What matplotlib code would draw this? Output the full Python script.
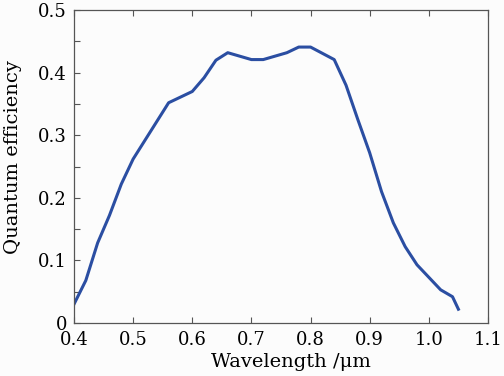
import matplotlib
matplotlib.use("Agg")
import matplotlib.pyplot as plt
from matplotlib.ticker import MultipleLocator

# Кривая квантовой эффективности
wavelength = [0.40, 0.42, 0.44, 0.46, 0.48, 0.50, 0.52, 0.54, 0.56, 0.60,
              0.62, 0.64, 0.66, 0.70, 0.72, 0.76, 0.78, 0.80, 0.84, 0.86,
              0.88, 0.90, 0.92, 0.94, 0.96, 0.98, 1.00, 1.02, 1.04, 1.05]
efficiency = [0.030, 0.068, 0.128, 0.172, 0.222, 0.262, 0.292, 0.322, 0.352, 0.370,
              0.392, 0.420, 0.432, 0.421, 0.421, 0.432, 0.441, 0.441, 0.421, 0.380,
              0.325, 0.272, 0.210, 0.160, 0.122, 0.093, 0.073, 0.053, 0.042, 0.022]
x_ticks = [0.4, 0.5, 0.6, 0.7, 0.8, 0.9, 1.0, 1.1]
y_ticks = [0, 0.1, 0.2, 0.3, 0.4, 0.5]
x_tick_labels = ['0.4', '0.5', '0.6', '0.7', '0.8', '0.9', '1.0', '1.1']
y_tick_labels = ['0', '0.1', '0.2', '0.3', '0.4', '0.5']

plt.rcParams['font.family'] = ['DejaVu Serif']

fig = plt.figure(figsize=(5.04, 3.76), dpi=100, facecolor='#fcfcfc')
ax = fig.add_axes([0.1468, 0.141, 0.8214, 0.832], facecolor='#fcfcfc')

ax.plot(wavelength, efficiency, color='#2B4EA2', linewidth=2.2)

ax.set_xlim(0.4, 1.1)
ax.set_ylim(0, 0.5)
ax.set_xticks(x_ticks)
ax.set_xticklabels(x_tick_labels)
ax.set_yticks(y_ticks)
ax.set_yticklabels(y_tick_labels)
ax.yaxis.set_minor_locator(MultipleLocator(0.05))

ax.tick_params(axis='both', which='both', direction='in', length=4, width=0.8,
               color='#555555', labelsize=13, top=True, right=False)
ax.tick_params(axis='x', pad=6)
ax.tick_params(axis='y', pad=5)
ax.tick_params(axis='x', which='minor', top=False, bottom=False)

for sp in ax.spines.values():
    sp.set_color('#555555')
    sp.set_linewidth(0.9)

ax.set_xlabel('Wavelength /μm', fontsize=14)
ax.set_ylabel('Quantum efficiency', fontsize=14)
ax.xaxis.set_label_coords(0.524, -0.096)
ax.yaxis.set_label_coords(-0.125, 0.53)

fig.savefig('out.png', dpi=100, facecolor=fig.get_facecolor())
